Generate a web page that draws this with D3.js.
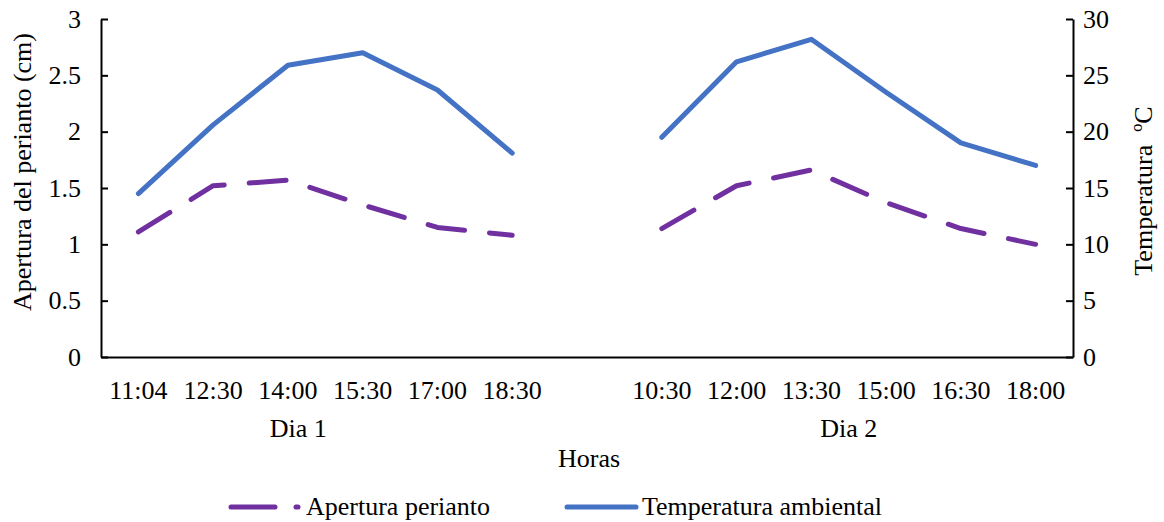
<!DOCTYPE html>
<html>
<head>
<meta charset="utf-8">
<script src="https://cdn.jsdelivr.net/npm/d3@7"></script>
<style>
  html, body { margin: 0; padding: 0; background: #fff; }
  svg { display: block; }
</style>
</head>
<body>
<svg id="chart" width="1164" height="522" font-family="Liberation Serif"></svg>
<script>
// ---- data ----
const categories = ["11:04", "12:30", "14:00", "15:30", "17:00", "18:30", "",
                    "10:30", "12:00", "13:30", "15:00", "16:30", "18:00"];
const apertura = [1.11, 1.52, 1.57, 1.35, 1.15, 1.08, null,
                  1.14, 1.52, 1.66, 1.37, 1.14, 1.00];
const temperatura = [14.5, 20.6, 25.9, 27.0, 23.7, 18.1, null,
                     19.5, 26.2, 28.2, 23.5, 19.0, 17.0];
const groups = [
  { label: "Dia 1", from: 0, to: 5 },
  { label: "Dia 2", from: 7, to: 12 }
];
const leftTicks = [0, 0.5, 1, 1.5, 2, 2.5, 3];
const rightTicks = [0, 5, 10, 15, 20, 25, 30];
const seriesNames = ["Apertura perianto", "Temperatura ambiental"];

// ---- layout ----
const FONT = "Liberation Serif";
const svg = d3.select("#chart");
const L = 101, R = 1073, T = 19, B = 357;
const PURPLE = "#7030A0", BLUE = "#4472C4";
const FS = 26;

const x = d3.scaleBand().domain(d3.range(categories.length)).range([L, R]).padding(0);
const cx = i => x(i) + x.bandwidth() / 2;
const yL = d3.scaleLinear().domain([0, 3]).range([B, T]);
const yR = d3.scaleLinear().domain([0, 30]).range([B, T]);

function styleText(sel) {
  return sel.style("font-family", FONT).attr("font-family", FONT)
    .style("font-size", FS + "px").attr("fill", "#000");
}

// left axis
const gL = svg.append("g").attr("transform", `translate(${L},0)`)
  .call(d3.axisLeft(yL).tickValues(leftTicks).tickSizeInner(-7).tickSizeOuter(0).tickPadding(20)
    .tickFormat(d => String(d)));
gL.attr("font-family", FONT);
gL.select(".domain").attr("stroke", "#000").attr("stroke-width", 2);
gL.selectAll(".tick line").attr("stroke", "#000").attr("stroke-width", 2);
styleText(gL.selectAll(".tick text"));

// right axis
const gR = svg.append("g").attr("transform", `translate(${R},0)`)
  .call(d3.axisRight(yR).tickValues(rightTicks).tickSizeInner(-7).tickSizeOuter(0).tickPadding(10)
    .tickFormat(d => String(d)));
gR.attr("font-family", FONT);
gR.select(".domain").attr("stroke", "#000").attr("stroke-width", 2);
gR.selectAll(".tick line").attr("stroke", "#000").attr("stroke-width", 2);
styleText(gR.selectAll(".tick text"));

// bottom axis
const gB = svg.append("g").attr("transform", `translate(0,${B})`)
  .call(d3.axisBottom(x).tickSize(0).tickPadding(0).tickFormat(i => categories[i]));
gB.attr("font-family", FONT);
gB.select(".domain").attr("stroke", "#000").attr("stroke-width", 2);
styleText(gB.selectAll(".tick text")).attr("dy", null).attr("y", 42);

// group labels
const groupOffsets = [-27, 0];
styleText(svg.selectAll("text.group").data(groups).join("text")
  .attr("class", "group")
  .attr("x", (d, i) => (cx(d.from) + cx(d.to)) / 2 + groupOffsets[i])
  .attr("y", 437)
  .attr("text-anchor", "middle")
  .text(d => d.label));

// axis titles
styleText(svg.append("text").attr("x", 589).attr("y", 467).attr("text-anchor", "middle")
  .text("Horas"));
styleText(svg.append("text").attr("transform", "translate(31,172) rotate(-90)")
  .attr("text-anchor", "middle").text("Apertura del perianto (cm)"));
styleText(svg.append("text").attr("transform", "translate(1152,191) rotate(-90)")
  .attr("text-anchor", "middle")
  .style("white-space", "pre").text("Temperatura  \u00BAC"));

// lines
const lineL = d3.line().defined(d => d != null).x((d, i) => cx(i)).y(d => yL(d));
const lineR = d3.line().defined(d => d != null).x((d, i) => cx(i)).y(d => yR(d));

svg.append("path").datum(temperatura).attr("d", lineR)
  .attr("fill", "none").attr("stroke", BLUE).attr("stroke-width", 5)
  .attr("stroke-linejoin", "round").attr("stroke-linecap", "round");
svg.append("path").datum(apertura).attr("d", lineL)
  .attr("fill", "none").attr("stroke", PURPLE).attr("stroke-width", 5)
  .attr("stroke-dasharray", "37,25")
  .attr("stroke-linejoin", "round").attr("stroke-linecap", "round");

// legend
const leg = svg.append("g");
leg.append("line").attr("x1", 231).attr("x2", 298).attr("y1", 507).attr("y2", 507)
  .attr("stroke", PURPLE).attr("stroke-width", 5).attr("stroke-linecap", "round")
  .attr("stroke-dasharray", "44,21");
styleText(leg.append("text").attr("x", 306).attr("y", 515).text(seriesNames[0]));
leg.append("line").attr("x1", 567).attr("x2", 636).attr("y1", 507).attr("y2", 507)
  .attr("stroke", BLUE).attr("stroke-width", 5).attr("stroke-linecap", "round");
styleText(leg.append("text").attr("x", 642).attr("y", 515).text(seriesNames[1]));
</script>
</body>
</html>
